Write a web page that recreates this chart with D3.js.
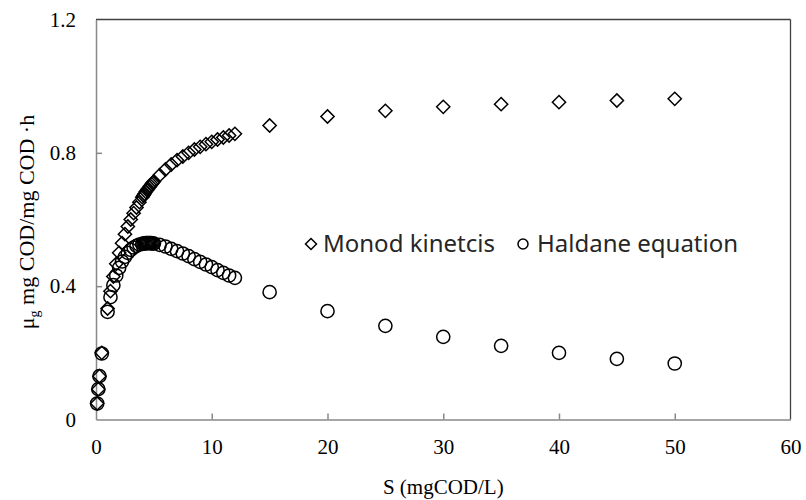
<!DOCTYPE html>
<html lang="en">
<head>
    <meta charset="UTF-8">
    <title>Monod vs Haldane</title>
    <script src="https://d3js.org/d3.v7.min.js"></script>
    <style>
        body {
            margin: 0;
            background: white;
        }
        svg {
            display: block;
        }
        svg text.tick-label {
            font-family: "Liberation Serif", serif !important;
            font-size: 21px !important;
        }
    </style>
</head>
<body>
    <svg id="chart"></svg>

    <script>
        // substrate concentration S (mgCOD/L)
        const sValues = [0.1, 0.2, 0.3, 0.5, 1, 1.25, 1.5, 1.75, 2, 2.25, 2.5, 2.75, 3, 3.25, 3.5, 3.75,
            4, 4.1, 4.2, 4.3, 4.4, 4.5, 4.6, 4.7, 4.8, 4.9, 5, 5.5, 6, 6.5, 7, 7.5, 8, 8.5, 9, 9.5,
            10, 10.5, 11, 11.5, 12, 15, 20, 25, 30, 35, 40, 45, 50];

        // growth rate, Monod kinetics
        const monod = [0.048, 0.091, 0.130, 0.200, 0.333, 0.385, 0.429, 0.467, 0.500, 0.529, 0.556, 0.579,
            0.600, 0.619, 0.636, 0.652, 0.667, 0.672, 0.677, 0.683, 0.688, 0.692, 0.697, 0.701, 0.706, 0.710,
            0.714, 0.733, 0.750, 0.765, 0.778, 0.789, 0.800, 0.810, 0.818, 0.826, 0.833, 0.840, 0.846, 0.852,
            0.857, 0.882, 0.909, 0.926, 0.938, 0.946, 0.952, 0.957, 0.962];

        // growth rate, Haldane equation
        const haldane = [0.048, 0.091, 0.130, 0.198, 0.323, 0.367, 0.403, 0.432, 0.455, 0.474, 0.488, 0.500,
            0.509, 0.516, 0.521, 0.525, 0.527, 0.528, 0.528, 0.529, 0.529, 0.529, 0.529, 0.529, 0.529, 0.528,
            0.528, 0.524, 0.519, 0.512, 0.505, 0.498, 0.490, 0.481, 0.473, 0.465, 0.457, 0.448, 0.440, 0.432,
            0.425, 0.382, 0.325, 0.281, 0.248, 0.221, 0.200, 0.182, 0.168];

        const xTicks = [0, 10, 20, 30, 40, 50, 60];
        const yTicks = [0, 0.4, 0.8, 1.2];

        const width = 806;
        const height = 500;
        const plot = { left: 96, right: 790.5, top: 19.5, bottom: 419.5 };
        const serif = 'Liberation Serif';

        const svg = d3.select('#chart')
            .attr('width', width)
            .attr('height', height);

        const x = d3.scaleLinear().domain([0, 60]).range([plot.left, plot.right]);
        const y = d3.scaleLinear().domain([0, 1.2]).range([plot.bottom, plot.top]);

        // frame top / right
        svg.append('line')
            .attr('x1', plot.left).attr('x2', plot.right)
            .attr('y1', plot.top).attr('y2', plot.top)
            .attr('stroke', '#404040').attr('stroke-width', 1.3);
        svg.append('line')
            .attr('x1', plot.right).attr('x2', plot.right)
            .attr('y1', plot.top).attr('y2', plot.bottom)
            .attr('stroke', '#404040').attr('stroke-width', 1.3);

        // x axis, ticks point inward
        const xAxis = svg.append('g')
            .attr('transform', `translate(0,${plot.bottom})`)
            .call(d3.axisBottom(x).tickValues(xTicks).tickSizeInner(-6).tickSizeOuter(0).tickPadding(20));
        xAxis.attr('font-family', serif).attr('font-size', 21);
        xAxis.select('.domain').attr('stroke', '#898989').attr('stroke-width', 1.5);
        xAxis.selectAll('.tick line').attr('stroke', '#898989').attr('stroke-width', 1.5)
            .attr('display', d => (d === 0 || d === 60) ? 'none' : null);
        xAxis.selectAll('.tick text')
            .attr('class', 'tick-label')
            .attr('dy', '0.71em')
            .attr('fill', '#000')
            .attr('font-family', serif);

        // y axis
        const yAxis = svg.append('g')
            .attr('transform', `translate(${plot.left},0)`)
            .call(d3.axisLeft(y).tickValues(yTicks).tickSizeInner(-6).tickSizeOuter(0).tickPadding(20)
                .tickFormat(d => d === 0 ? '0' : d3.format('.1f')(d)));
        yAxis.attr('font-family', serif).attr('font-size', 21);
        yAxis.select('.domain').attr('stroke', '#898989').attr('stroke-width', 1.5);
        yAxis.selectAll('.tick line').attr('stroke', '#898989').attr('stroke-width', 1.5)
            .attr('display', d => (d === 0 || d === 1.2) ? 'none' : null);
        yAxis.selectAll('.tick text')
            .attr('class', 'tick-label')
            .attr('fill', '#000')
            .attr('font-family', serif);

        // Monod points (diamonds)
        svg.append('g').selectAll('path')
            .data(sValues.map((s, i) => [s, monod[i]]))
            .join('path')
            .attr('d', 'M0,-6.6L6.6,0L0,6.6L-6.6,0Z')
            .attr('transform', d => `translate(${x(d[0])},${y(d[1])})`)
            .attr('fill', 'none')
            .attr('stroke', '#000')
            .attr('stroke-width', 1.5);

        // Haldane points (circles)
        svg.append('g').selectAll('circle')
            .data(sValues.map((s, i) => [s, haldane[i]]))
            .join('circle')
            .attr('cx', d => x(d[0]))
            .attr('cy', d => y(d[1]))
            .attr('r', 6.6)
            .attr('fill', 'none')
            .attr('stroke', '#000')
            .attr('stroke-width', 1.5);

        // Legend
        const legend = svg.append('g');
        legend.append('path')
            .attr('d', 'M0,-5.5L5.5,0L0,5.5L-5.5,0Z')
            .attr('transform', 'translate(311,244)')
            .attr('fill', 'none').attr('stroke', '#000').attr('stroke-width', 1.5);
        legend.append('text')
            .attr('x', 323).attr('y', 252)
            .attr('font-family', '"Noto Sans", sans-serif')
            .attr('font-size', 24)
            .attr('fill', '#262626')
            .text('Monod kinetcis');
        legend.append('circle')
            .attr('cx', 523).attr('cy', 244).attr('r', 5)
            .attr('fill', 'none').attr('stroke', '#000').attr('stroke-width', 1.5);
        legend.append('text')
            .attr('x', 537).attr('y', 252)
            .attr('font-family', '"Noto Sans", sans-serif')
            .attr('font-size', 24)
            .attr('fill', '#262626')
            .text('Haldane equation');

        // Axis titles
        svg.append('text')
            .attr('x', (plot.left + plot.right) / 2)
            .attr('y', 494)
            .attr('text-anchor', 'middle')
            .attr('font-family', serif)
            .attr('font-size', 21)
            .text('S (mgCOD/L)');

        const yTitle = svg.append('text')
            .attr('transform', 'translate(34,222) rotate(-90)')
            .attr('text-anchor', 'middle')
            .attr('font-family', serif)
            .attr('font-size', 22);
        yTitle.append('tspan').text('μ');
        yTitle.append('tspan').attr('font-size', 14).attr('dy', 5).text('g');
        yTitle.append('tspan').attr('dy', -5).text('   mg COD/mg COD ·h');
    </script>
</body>
</html>
